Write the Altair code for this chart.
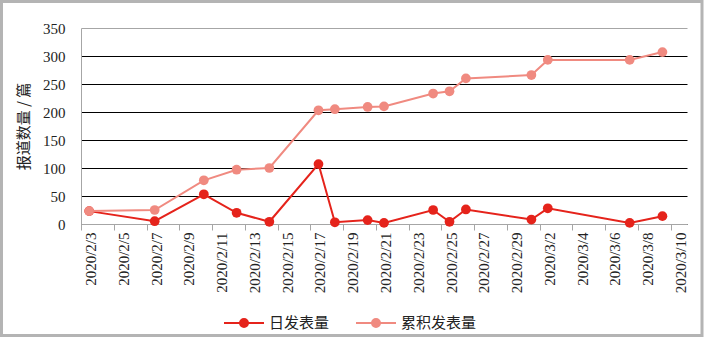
import altair as alt
import pandas as pd

dates = ["2020-02-03", "2020-02-07", "2020-02-10", "2020-02-12", "2020-02-14",
         "2020-02-17", "2020-02-18", "2020-02-20", "2020-02-21", "2020-02-24",
         "2020-02-25", "2020-02-26", "2020-03-01", "2020-03-02", "2020-03-07",
         "2020-03-09"]
daily = [23, 5, 53, 20, 4, 107, 3, 7, 2, 25, 4, 26, 8, 28, 2, 14]
cumulative = [23, 25, 78, 97, 100, 203, 205, 209, 210, 233, 237, 260, 266, 293, 293, 307]
series_names = ["日发表量", "累积发表量"]
series_colors = ["#e5231b", "#f08a80"]
y_ticks = [0, 50, 100, 150, 200, 250, 300, 350]
x_tick_days = list(range(0, 37, 2))

start = pd.Timestamp("2020-02-03")
day_idx = [(pd.Timestamp(d) - start).days for d in dates]
rows = []
for i, d in enumerate(dates):
    rows.append({"day": day_idx[i], "value": daily[i], "series": series_names[0]})
for i, d in enumerate(dates):
    rows.append({"day": day_idx[i], "value": cumulative[i], "series": series_names[1]})
df = pd.DataFrame(rows)

W, H = 606, 196
half_band = W / 37 / 2
SERIF = "Liberation Serif, Times New Roman, serif"

legend_path = "M-1,0H1M-0.2,0A0.2,0.2,0,1,1,0.2,0A0.2,0.2,0,1,1,-0.2,0Z"

color = alt.Color(
    "series:N",
    scale=alt.Scale(domain=series_names, range=series_colors),
    legend=alt.Legend(
        title=None, orient="none", direction="horizontal",
        legendX=142, legendY=274,
        symbolType=legend_path, symbolSize=1600, symbolStrokeWidth=2,
        labelFont="Noto Sans CJK SC", labelFontSize=15, labelColor="#222",
        labelOffset=4, columnPadding=22,
    ),
)

x = alt.X(
    "day:Q",
    scale=alt.Scale(domain=[-0.5, 36.5], nice=False, zero=False),
    axis=alt.Axis(
        values=x_tick_days, title=None, grid=False,
        labelExpr="timeFormat(datetime(2020, 1, 3 + datum.value), '%Y/%-m/%-d')",
        labelAngle=-90, labelFont=SERIF, labelFontSize=15,
        labelColor="#222", labelPadding=2, tickSize=6,
        tickOffset=-half_band, labelOffset=half_band + 1.5,
        domainColor="#a6a6a6", tickColor="#a6a6a6", labelOverlap=False,
        labelBound=False, labelFlush=False,
    ),
)
y = alt.Y(
    "value:Q",
    scale=alt.Scale(domain=[0, 350], nice=False),
    axis=alt.Axis(
        values=y_ticks, title="报道数量 / 篇", ticks=False,
        labelFont=SERIF, labelFontSize=15, labelColor="#222",
        labelPadding=16, domainColor="#a6a6a6",
        gridColor={"condition": {"test": "datum.value === 350", "value": "#a6a6a6"}, "value": "#000000"},
        gridWidth=1,
        titleFont="Noto Sans CJK SC", titleFontSize=15, titleFontWeight="normal",
        titleColor="#222", titleX=-58, titleY=H / 2, titleAngle=-90,
        titleAlign="center", titleBaseline="middle",
    ),
)

base = alt.Chart(df)
lines = base.mark_line(strokeWidth=2).encode(x=x, y=y, color=color)
points = base.mark_point(filled=True, size=95, opacity=1).encode(x=x, y=y, color=color)

frame = alt.Chart(pd.DataFrame({"a": [0]})).mark_rect(
    filled=False, stroke="#b4b4b4", strokeWidth=3
).encode(
    x=alt.value(-79.5), x2=alt.value(621), y=alt.value(-26.5), y2=alt.value(307.5)
)

chart = alt.layer(frame, lines, points).properties(
    width=W, height=H,
    padding={"left": 81, "top": 28, "right": 17, "bottom": 113},
    autosize=alt.AutoSizeParams(type="none"),
    background="white",
).configure_view(stroke=None)

chart.save("out.html", embed_options={"renderer": "svg", "actions": False})
